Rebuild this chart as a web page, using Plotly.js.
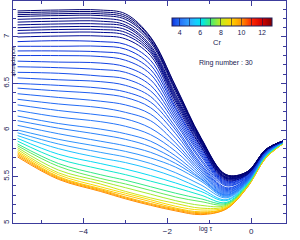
<!DOCTYPE html>
<html><head><meta charset="utf-8">
<script src="https://cdn.plot.ly/plotly-3.0.1.min.js"></script>
<style>html,body{margin:0;padding:0;background:#fff;}#chart{width:300px;height:240px;}</style>
</head><body><div id="chart"></div>
<script>
// log tau sample positions
const logTau = [-5.57, -4.6, -3.6, -3.0, -2.4, -1.8, -1.2, -0.6, -0.1, 0.35, 0.75];

const navyCurves = [
 [7.28, 7.29, 7.29, 7.25, 7.00, 6.47, 5.92, 5.52, 5.55, 5.79, 5.88],
 [7.26, 7.27, 7.27, 7.23, 6.99, 6.46, 5.91, 5.52, 5.55, 5.79, 5.88],
 [7.24, 7.25, 7.25, 7.21, 6.97, 6.44, 5.91, 5.51, 5.55, 5.79, 5.88],
 [7.22, 7.23, 7.23, 7.19, 6.96, 6.43, 5.90, 5.51, 5.54, 5.79, 5.88],
 [7.19, 7.20, 7.20, 7.16, 6.94, 6.41, 5.89, 5.50, 5.54, 5.79, 5.88],
 [7.16, 7.17, 7.17, 7.13, 6.91, 6.38, 5.88, 5.49, 5.54, 5.79, 5.88],
 [7.13, 7.14, 7.14, 7.11, 6.89, 6.36, 5.87, 5.49, 5.53, 5.79, 5.88],
 [7.10, 7.11, 7.11, 7.08, 6.87, 6.34, 5.86, 5.48, 5.53, 5.78, 5.88],
 [7.07, 7.08, 7.08, 7.05, 6.85, 6.32, 5.85, 5.48, 5.53, 5.78, 5.88],
 [7.04, 7.05, 7.05, 7.02, 6.83, 6.30, 5.83, 5.47, 5.52, 5.78, 5.88],
 [7.00, 7.01, 7.01, 6.98, 6.80, 6.27, 5.82, 5.46, 5.52, 5.78, 5.88]
];
const navyCr = [2.0, 2.1, 2.2, 2.3, 2.4, 2.5, 2.6, 2.7, 2.8, 2.9, 3.0];

const blueCurves = [
 [6.95, 6.96, 6.95, 6.92, 6.75, 6.24, 5.80, 5.45, 5.52, 5.78, 5.88],
 [6.90, 6.90, 6.90, 6.87, 6.70, 6.22, 5.78, 5.44, 5.51, 5.78, 5.88],
 [6.85, 6.85, 6.84, 6.81, 6.65, 6.19, 5.76, 5.43, 5.51, 5.77, 5.88],
 [6.80, 6.80, 6.79, 6.75, 6.60, 6.16, 5.74, 5.42, 5.50, 5.77, 5.88],
 [6.74, 6.73, 6.72, 6.68, 6.54, 6.13, 5.72, 5.41, 5.49, 5.77, 5.87],
 [6.68, 6.67, 6.65, 6.62, 6.48, 6.10, 5.69, 5.40, 5.49, 5.77, 5.87],
 [6.62, 6.61, 6.58, 6.55, 6.42, 6.07, 5.67, 5.38, 5.48, 5.77, 5.87],
 [6.56, 6.54, 6.52, 6.48, 6.36, 6.03, 5.64, 5.37, 5.48, 5.76, 5.87],
 [6.50, 6.48, 6.45, 6.41, 6.30, 6.00, 5.62, 5.36, 5.47, 5.76, 5.87]
];
const blueCr = [3.3, 3.35, 3.4, 3.45, 3.5, 3.55, 3.6, 3.65, 3.7];

const skyCurves = [
 [6.45, 6.42, 6.39, 6.35, 6.24, 5.96, 5.60, 5.35, 5.47, 5.76, 5.87],
 [6.39, 6.35, 6.31, 6.27, 6.17, 5.91, 5.58, 5.34, 5.46, 5.76, 5.87],
 [6.33, 6.28, 6.24, 6.19, 6.10, 5.86, 5.56, 5.33, 5.46, 5.75, 5.87],
 [6.27, 6.21, 6.16, 6.12, 6.02, 5.82, 5.54, 5.32, 5.46, 5.75, 5.87],
 [6.21, 6.14, 6.09, 6.04, 5.95, 5.77, 5.52, 5.31, 5.45, 5.75, 5.87],
 [6.15, 6.07, 6.01, 5.96, 5.88, 5.72, 5.50, 5.30, 5.45, 5.75, 5.87],
 [6.10, 6.02, 5.95, 5.90, 5.82, 5.68, 5.48, 5.30, 5.45, 5.74, 5.87],
 [6.05, 5.96, 5.88, 5.83, 5.76, 5.64, 5.47, 5.29, 5.44, 5.74, 5.87],
 [6.00, 5.90, 5.82, 5.77, 5.70, 5.60, 5.45, 5.28, 5.44, 5.74, 5.87]
];
const skyCr = [3.8, 3.9, 4.0, 4.1, 4.2, 4.3, 4.4, 4.5, 4.7];

const cyanCurves = [
 [5.97, 5.85, 5.76, 5.71, 5.64, 5.54, 5.41, 5.27, 5.43, 5.74, 5.87],
 [5.94, 5.80, 5.70, 5.65, 5.58, 5.49, 5.37, 5.25, 5.43, 5.73, 5.87],
 [5.91, 5.74, 5.64, 5.58, 5.51, 5.43, 5.34, 5.24, 5.42, 5.73, 5.86],
 [5.88, 5.69, 5.58, 5.52, 5.45, 5.38, 5.30, 5.22, 5.42, 5.72, 5.86],
 [5.85, 5.64, 5.52, 5.46, 5.39, 5.32, 5.26, 5.21, 5.41, 5.72, 5.86]
];
const cyanCr = [4.9, 5.4, 5.9, 6.4, 6.9];

const warmCurves = [
 [5.83, 5.61, 5.48, 5.42, 5.35, 5.28, 5.23, 5.20, 5.40, 5.72, 5.86],
 [5.81, 5.57, 5.45, 5.38, 5.31, 5.24, 5.19, 5.19, 5.40, 5.71, 5.86],
 [5.79, 5.54, 5.42, 5.34, 5.27, 5.21, 5.16, 5.18, 5.39, 5.71, 5.85],
 [5.77, 5.52, 5.39, 5.32, 5.25, 5.18, 5.14, 5.17, 5.39, 5.71, 5.85],
 [5.755, 5.50, 5.37, 5.30, 5.23, 5.16, 5.12, 5.16, 5.39, 5.70, 5.85],
 [5.74, 5.49, 5.36, 5.28, 5.21, 5.15, 5.11, 5.16, 5.38, 5.70, 5.85],
 [5.725, 5.48, 5.35, 5.27, 5.20, 5.14, 5.10, 5.15, 5.38, 5.70, 5.85],
 [5.71, 5.47, 5.34, 5.26, 5.19, 5.13, 5.09, 5.15, 5.38, 5.70, 5.85]
];
const warmCr = [7.3, 7.8, 8.3, 8.9, 9.3, 9.6, 9.9, 10.1];

const cbTicks = [4, 5, 6, 7, 8, 9, 10, 11, 12];
const cbLabels = ['4', '', '6', '', '8', '', '10', '', '12'];
const crMin = 3.3, crMax = 13;

// colour stops (Cr value -> rgb)
const stops = [
 [2.0, [0, 0, 110]], [3.0, [0, 10, 150]], [3.3, [10, 45, 215]], [3.6, [25, 80, 235]],
 [4.2, [40, 120, 250]], [5.0, [50, 165, 255]], [5.6, [20, 205, 255]], [6.2, [0, 230, 235]],
 [7.0, [60, 235, 120]], [8.0, [190, 235, 30]], [9.0, [255, 215, 0]], [10.0, [255, 150, 0]],
 [11.0, [255, 40, 0]], [12.0, [215, 0, 0]], [13.0, [130, 0, 0]]
];
function colorFor(v) {
  if (v <= stops[0][0]) return 'rgb(' + stops[0][1].join(',') + ')';
  for (let i = 1; i < stops.length; i++) {
    if (v <= stops[i][0]) {
      const a = stops[i - 1], b = stops[i];
      const f = (v - a[0]) / (b[0] - a[0]);
      const c = a[1].map((ch, k) => Math.round(ch + f * (b[1][k] - ch)));
      return 'rgb(' + c.join(',') + ')';
    }
  }
  return 'rgb(' + stops[stops.length - 1][1].join(',') + ')';
}
const cbScale = stops.filter(s => s[0] >= crMin)
  .map(s => [(s[0] - crMin) / (crMax - crMin), 'rgb(' + s[1].join(',') + ')']);

const allCurves = [].concat(warmCurves.slice().reverse(), cyanCurves.slice().reverse(),
  skyCurves.slice().reverse(), blueCurves.slice().reverse(), navyCurves.slice().reverse());
const allCr = [].concat(warmCr.slice().reverse(), cyanCr.slice().reverse(),
  skyCr.slice().reverse(), blueCr.slice().reverse(), navyCr.slice().reverse());

const traces = allCurves.map((row, i) => ({
  type: 'scatter', mode: 'lines', x: logTau, y: row,
  line: {color: colorFor(allCr[i]), width: 1, shape: 'spline', smoothing: 1},
  hoverinfo: 'skip', showlegend: false
}));

traces.push({
  type: 'scatter', mode: 'markers', x: [-10], y: [0], hoverinfo: 'skip', showlegend: false,
  marker: {
    color: [crMin], cmin: crMin, cmax: crMax, colorscale: cbScale, showscale: true, size: 1,
    colorbar: {
      orientation: 'h', x: 0.584, xanchor: 'left', y: 0.923, yanchor: 'top',
      len: 100, lenmode: 'pixels', thickness: 8, thicknessmode: 'pixels',
      xpad: 0, ypad: 0, outlinewidth: 1, outlinecolor: '#20205a',
      tickmode: 'array', tickvals: cbTicks, ticktext: cbLabels,
      ticks: 'inside', ticklen: 8, tickcolor: 'rgba(20,20,60,0.6)', tickwidth: 1,
      tickfont: {size: 7, color: '#1a1a50'}
    }
  }
});

const axisColor = '#3c3c9c';
const layout = {
  width: 300, height: 240,
  margin: {l: 12.5, r: 14.3, t: 1, b: 17, pad: 0},
  paper_bgcolor: '#ffffff', plot_bgcolor: '#ffffff',
  font: {family: 'Liberation Sans, Arial, sans-serif', size: 8, color: '#1a1a50'},
  xaxis: {
    range: [-5.68, 0.83], tickmode: 'linear', tick0: 0, dtick: 2,
    ticks: 'inside', ticklen: 5, tickcolor: axisColor, tickwidth: 1,
    showline: true, linecolor: axisColor, linewidth: 1, mirror: 'allticks',
    showgrid: false, zeroline: false, tickfont: {size: 8},
    minor: {dtick: 1, tick0: 0, ticks: 'inside', ticklen: 3, tickcolor: axisColor, showgrid: false}
  },
  yaxis: {
    range: [5, 7.387], tickmode: 'linear', tick0: 5, dtick: 0.5, tickangle: -90,
    ticks: 'inside', ticklen: 5, tickcolor: axisColor, tickwidth: 1,
    showline: true, linecolor: axisColor, linewidth: 1, mirror: 'allticks',
    showgrid: false, zeroline: false, tickfont: {size: 8},
    minor: {dtick: 0.1, tick0: 5, ticks: 'inside', ticklen: 3, tickcolor: axisColor, showgrid: false}
  },
  annotations: [
    {text: 'abundance', xref: 'paper', yref: 'paper', x: -0.002, y: 0.73, textangle: -90,
     xanchor: 'center', yanchor: 'middle', showarrow: false, font: {size: 6, color: '#1a1a50'}},
    {text: 'log τ', xref: 'paper', yref: 'paper', x: 0.705, y: -0.027,
     xanchor: 'center', yanchor: 'middle', showarrow: false, font: {size: 6.5, color: '#1a1a50'}},
    {text: 'Cr', xref: 'paper', yref: 'paper', x: 0.749, y: 0.811,
     xanchor: 'center', yanchor: 'middle', showarrow: false, font: {size: 7.5, color: '#1a1a50'}},
    {text: 'Ring number : 30', xref: 'paper', yref: 'paper', x: 0.781, y: 0.721,
     xanchor: 'center', yanchor: 'middle', showarrow: false, font: {size: 7, color: '#1a1a50'}}
  ]
};

Plotly.newPlot('chart', traces, layout, {displayModeBar: false, staticPlot: true});
</script>
</body></html>
